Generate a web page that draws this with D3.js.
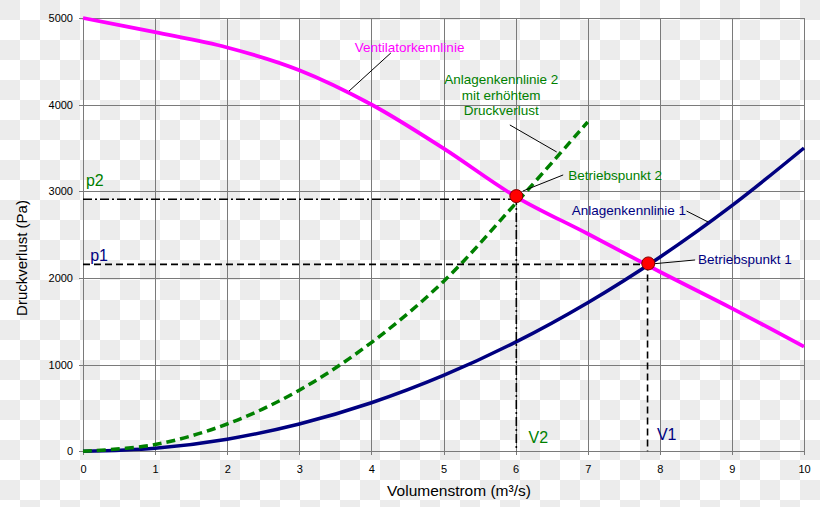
<!DOCTYPE html>
<html>
<head>
<meta charset="utf-8">
<script src="https://cdn.jsdelivr.net/npm/d3@7"></script>
<style>
  html, body { margin: 0; padding: 0; background: #fff; }
  svg { display: block; font-family: "Liberation Sans", Arial, sans-serif; }
</style>
</head>
<body>
<svg id="chart" width="820" height="507"></svg>
<script>
// ---- data ----
const xTicks = [0, 1, 2, 3, 4, 5, 6, 7, 8, 9, 10];
const yTicks = [0, 1000, 2000, 3000, 4000, 5000];
const fanX = [0, 1, 2, 3, 4, 5, 6, 7, 8, 9, 10];
const fanP = [5000, 4836, 4660, 4398, 4002, 3495, 2940, 2510, 2072, 1650, 1207];
const sys1X = [0, 1, 2, 3, 4, 5, 6, 7, 8, 9, 10];
const sys1P = [0, 35, 140, 315, 560, 875, 1260, 1715, 2240, 2835, 3500];
const sys2X = [0, 1, 2, 3, 4, 5, 6, 7];
const sys2P = [0, 78, 315, 705, 1255, 1960, 2860, 3800];
const op1 = { v: 7.84, p: 2168, pLine: 2157, vLine: 7.83 };
const op2 = { v: 6.01, p: 2945, pLine: 2908, vLine: 6.01 };
const xTitle = "Volumenstrom (m³/s)";
const yTitle = "Druckverlust (Pa)";

// annotations (data coordinates)
const labels = [
  { text: "Ventilatorkennlinie", x: 3.77, y: 4666, color: "#ff00ff", size: 13.5, anchor: "start" },
  { text: "Anlagenkennlinie 2", x: 5.80, y: 4293, color: "#008000", size: 13.5, anchor: "middle" },
  { text: "mit erhöhtem", x: 5.80, y: 4112, color: "#008000", size: 13.5, anchor: "middle" },
  { text: "Druckverlust", x: 5.80, y: 3930, color: "#008000", size: 13.5, anchor: "middle" },
  { text: "Betriebspunkt 2", x: 6.73, y: 3189, color: "#008000", size: 13.5, anchor: "start" },
  { text: "Anlagenkennlinie 1", x: 6.78, y: 2777, color: "#000080", size: 13.5, anchor: "start" },
  { text: "Betriebspunkt 1", x: 8.53, y: 2216, color: "#000080", size: 13.5, anchor: "start" },
  { text: "p2", x: 0.04, y: 3123, color: "#008000", size: 16, anchor: "start" },
  { text: "p1", x: 0.10, y: 2257, color: "#000080", size: 16, anchor: "start" },
  { text: "V2", x: 6.18, y: 162, color: "#008000", size: 16, anchor: "start" },
  { text: "V1", x: 7.96, y: 196, color: "#000080", size: 16, anchor: "start" }
];
const leaders = [
  [[4.27, 4597], [3.69, 4157]],
  [[5.92, 3766], [6.57, 3454]],
  [[6.66, 3189], [6.10, 3003]],
  [[8.37, 2773], [8.67, 2646]],
  [[8.49, 2208], [7.89, 2162]]
];

// ---- layout ----
const W = 820, H = 507;
const svg = d3.select("#chart");
const x = d3.scaleLinear().domain([0, 10]).range([83, 804]);
const y = d3.scaleLinear().domain([0, 5000]).range([451.3, 18]);

// checkerboard background
const defs = svg.append("defs");
const pat = defs.append("pattern").attr("id", "chk").attr("patternUnits", "userSpaceOnUse")
  .attr("width", 40).attr("height", 40);
pat.append("rect").attr("width", 40).attr("height", 40).attr("fill", "#ffffff");
pat.append("rect").attr("x", 0).attr("y", 0).attr("width", 20).attr("height", 20).attr("fill", "#ececec");
pat.append("rect").attr("x", 20).attr("y", 20).attr("width", 20).attr("height", 20).attr("fill", "#ececec");
svg.append("rect").attr("width", W).attr("height", H).attr("fill", "url(#chk)");

// grid via axes
const gridColor = "#7a7a7a";
const gx = svg.append("g").attr("transform", `translate(0,${y(0)})`)
  .call(d3.axisBottom(x).tickValues(xTicks).tickSize(-(y(0) - y(5000))).tickSizeOuter(0).tickFormat(""));
gx.select(".domain").remove();
gx.selectAll("line").attr("stroke", gridColor).attr("stroke-width", 1).attr("y2", -(y(0) - y(5000)))
  .attr("y1", 4).attr("shape-rendering", "crispEdges");

const gy = svg.append("g").attr("transform", `translate(${x(0)},0)`)
  .call(d3.axisLeft(y).tickValues(yTicks).tickSize(-(x(10) - x(0))).tickSizeOuter(0).tickFormat(""));
gy.select(".domain").remove();
gy.selectAll("line").attr("stroke", gridColor).attr("stroke-width", 1).attr("x1", -4)
  .attr("shape-rendering", "crispEdges");

// tick labels
const xl = svg.append("g").attr("transform", `translate(0,${y(0)})`)
  .call(d3.axisBottom(x).tickValues(xTicks).tickSize(0).tickPadding(14).tickFormat(d3.format("d")));
xl.select(".domain").remove();
xl.selectAll("text").attr("font-size", 11).attr("fill", "#000").attr("font-family", "Liberation Sans, Arial, sans-serif");

const yl = svg.append("g").attr("transform", `translate(${x(0)},0)`)
  .call(d3.axisLeft(y).tickValues(yTicks).tickSize(0).tickPadding(10).tickFormat(d3.format("d")));
yl.select(".domain").remove();
yl.selectAll("text").attr("font-size", 11).attr("fill", "#000").attr("font-family", "Liberation Sans, Arial, sans-serif");

// axis titles
svg.append("text").attr("x", 459).attr("y", 496).attr("text-anchor", "middle")
  .attr("font-size", 15.5).attr("fill", "#000").text(xTitle);
svg.append("text").attr("transform", `translate(27,${258}) rotate(-90)`).attr("text-anchor", "middle")
  .attr("font-size", 15).attr("fill", "#000").text(yTitle);

// curves
const line = d3.line().x(d => x(d[0])).y(d => y(d[1])).curve(d3.curveCatmullRom.alpha(0.5));
svg.append("path").datum(sys1X.map((v, i) => [v, sys1P[i]])).attr("d", line)
  .attr("fill", "none").attr("stroke", "#000080").attr("stroke-width", 3.5);
svg.append("path").datum(sys2X.map((v, i) => [v, sys2P[i]])).attr("d", line)
  .attr("fill", "none").attr("stroke", "#008000").attr("stroke-width", 3.5).attr("stroke-dasharray", "9,5");
svg.append("path").datum(fanX.map((v, i) => [v, fanP[i]])).attr("d", line)
  .attr("fill", "none").attr("stroke", "#ff00ff").attr("stroke-width", 3.8);

// reference lines
svg.append("line").attr("x1", x(0)).attr("x2", x(op1.v)).attr("y1", y(op1.pLine)).attr("y2", y(op1.pLine))
  .attr("stroke", "#000").attr("stroke-width", 1.6).attr("stroke-dasharray", "7,4");
svg.append("line").attr("x1", x(op1.vLine)).attr("x2", x(op1.vLine)).attr("y1", y(op1.p)).attr("y2", y(0))
  .attr("stroke", "#000").attr("stroke-width", 1.6).attr("stroke-dasharray", "7,4");
svg.append("line").attr("x1", x(0)).attr("x2", x(op2.v)).attr("y1", y(op2.pLine)).attr("y2", y(op2.pLine))
  .attr("stroke", "#000").attr("stroke-width", 1.6).attr("stroke-dasharray", "9,3,2,3");
svg.append("line").attr("x1", x(op2.vLine)).attr("x2", x(op2.vLine)).attr("y1", y(op2.p)).attr("y2", y(0))
  .attr("stroke", "#000").attr("stroke-width", 1.6).attr("stroke-dasharray", "9,3,2,3");

// leaders
svg.append("g").selectAll("line").data(leaders).join("line")
  .attr("x1", d => x(d[0][0])).attr("y1", d => y(d[0][1]))
  .attr("x2", d => x(d[1][0])).attr("y2", d => y(d[1][1]))
  .attr("stroke", "#000").attr("stroke-width", 1);

// operating points
svg.append("g").selectAll("circle").data([op1, op2]).join("circle")
  .attr("cx", d => x(d.v)).attr("cy", d => y(d.p)).attr("r", 6.5)
  .attr("fill", "#ff0000").attr("stroke", "#800000").attr("stroke-width", 1);

// labels
svg.append("g").selectAll("text").data(labels).join("text")
  .attr("x", d => x(d.x)).attr("y", d => y(d.y)).attr("dy", "0.35em")
  .attr("text-anchor", d => d.anchor).attr("font-size", d => d.size)
  .attr("fill", d => d.color).text(d => d.text);
</script>
</body>
</html>
